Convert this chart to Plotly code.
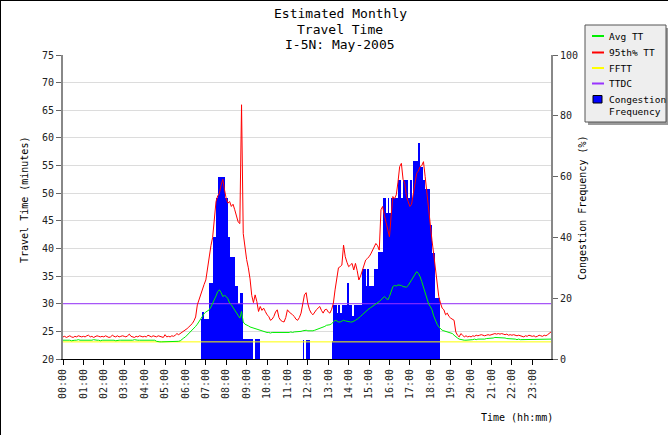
import plotly.graph_objects as go

# ---------------- data ----------------
tick_labels = ["00:00", "01:00", "02:00", "03:00", "04:00", "05:00", "06:00", "07:00",
               "08:00", "09:00", "10:00", "11:00", "12:00", "13:00", "14:00", "15:00",
               "16:00", "17:00", "18:00", "19:00", "20:00", "21:00", "22:00", "23:00"]
tick_hours = list(range(24))

# 5-minute bins, one row per hour
avg_tt_rows = [
    [23.4, 23.4, 23.5, 23.4, 23.4, 23.3, 23.4, 23.4, 23.4, 23.5, 23.4, 23.4],
    [23.4, 23.4, 23.3, 23.4, 23.4, 23.4, 23.5, 23.4, 23.4, 23.4, 23.3, 23.4],
    [23.4, 23.4, 23.4, 23.5, 23.4, 23.4, 23.4, 23.3, 23.4, 23.4, 23.4, 23.4],
    [23.4, 23.3, 23.4, 23.4, 23.4, 23.4, 23.5, 23.4, 23.4, 23.4, 23.4, 23.3],
    [23.4, 23.4, 23.3, 23.4, 23.4, 23.4, 23.4, 23.2, 23.1, 23.1, 23.1, 23.1],
    [23.1, 23.1, 23.1, 23.1, 23.1, 23.1, 23.1, 23.1, 23.2, 23.3, 23.6, 23.8],
    [24.0, 24.3, 24.6, 24.9, 25.2, 25.5, 25.9, 26.3, 26.8, 27.3, 27.7, 28.2],
    [28.5, 28.7, 28.9, 29.4, 30.0, 30.7, 31.4, 32.2, 32.5, 32.0, 31.3, 31.5],
    [31.3, 30.9, 30.1, 29.8, 29.3, 28.9, 28.4, 27.9, 27.4, 28.6, 26.7, 26.3],
    [26.2, 26.0, 25.8, 25.7, 25.5, 25.4, 25.3, 25.2, 25.1, 25.0, 24.9, 24.9],
    [24.8, 24.8, 24.7, 24.8, 24.8, 24.7, 24.8, 24.8, 24.8, 24.7, 24.8, 24.8],
    [24.8, 24.8, 24.9, 24.8, 24.9, 24.9, 24.9, 25.0, 25.0, 25.1, 25.2, 25.2],
    [25.1, 25.1, 25.0, 25.1, 25.2, 25.3, 25.4, 25.6, 25.6, 25.7, 25.9, 26.1],
    [26.1, 26.2, 26.4, 26.8, 27.0, 26.9, 26.7, 26.7, 26.8, 27.0, 26.9, 26.8],
    [26.8, 26.7, 26.7, 26.8, 27.0, 27.2, 27.4, 27.7, 28.0, 28.3, 28.6, 28.9],
    [29.1, 29.3, 29.5, 29.8, 30.0, 30.2, 30.4, 30.7, 31.0, 31.3, 31.0, 30.7],
    [31.3, 32.2, 33.1, 33.3, 33.2, 33.4, 33.4, 33.3, 33.1, 33.1, 33.0, 33.3],
    [33.8, 34.4, 34.9, 35.3, 35.8, 35.5, 34.9, 34.0, 32.9, 31.9, 31.0, 30.0],
    [29.5, 28.9, 27.8, 27.0, 26.3, 25.8, 25.5, 25.2, 25.1, 25.0, 24.9, 24.9],
    [24.7, 24.6, 24.3, 24.0, 23.8, 23.6, 23.5, 23.5, 23.4, 23.4, 23.4, 23.4],
    [23.5, 23.5, 23.6, 23.5, 23.6, 23.6, 23.5, 23.6, 23.6, 23.7, 23.7, 23.7],
    [23.8, 23.8, 23.9, 23.9, 23.9, 23.9, 23.9, 23.8, 23.8, 23.7, 23.7, 23.6],
    [23.6, 23.6, 23.6, 23.5, 23.6, 23.5, 23.5, 23.6, 23.5, 23.5, 23.6, 23.5],
    [23.5, 23.6, 23.5, 23.5, 23.6, 23.5, 23.5, 23.6, 23.6, 23.5, 23.6, 23.6],
]

p95_tt_rows = [
    [24.0, 24.1, 23.9, 24.0, 24.2, 24.0, 23.9, 24.1, 24.0, 24.2, 24.1, 24.0],
    [24.1, 24.0, 24.2, 24.3, 24.0, 24.1, 23.9, 24.0, 24.2, 24.1, 24.0, 24.1],
    [24.0, 24.2, 24.1, 23.9, 24.0, 24.3, 24.1, 24.0, 24.2, 24.0, 24.1, 24.2],
    [24.1, 24.0, 24.2, 24.5, 24.1, 24.0, 23.9, 24.1, 24.0, 24.2, 24.1, 24.0],
    [24.1, 24.0, 24.3, 24.1, 24.0, 24.2, 24.1, 24.0, 24.2, 24.1, 24.0, 23.9],
    [24.4, 24.0, 24.1, 24.0, 24.2, 24.1, 24.3, 24.6, 24.4, 24.6, 24.9, 25.0],
    [25.2, 25.5, 25.8, 26.1, 26.4, 26.9, 27.6, 29.8, 30.8, 31.7, 32.6, 33.5],
    [34.3, 36.5, 39.0, 40.5, 42.0, 45.0, 48.5, 49.5, 50.0, 51.5, 52.5, 50.6],
    [49.0, 48.2, 48.5, 47.6, 48.0, 47.0, 46.0, 44.8, 44.5, 66.0, 42.7, 40.0],
    [38.0, 36.5, 34.5, 31.5, 30.2, 31.6, 30.4, 28.6, 29.5, 28.8, 29.2, 28.6],
    [28.0, 27.7, 27.0, 27.2, 27.7, 28.5, 28.9, 27.5, 27.0, 26.8, 26.7, 27.5],
    [28.9, 28.5, 28.3, 28.0, 27.7, 27.2, 27.0, 27.5, 28.3, 30.4, 31.6, 32.0],
    [30.0, 28.9, 28.3, 28.0, 28.5, 28.9, 29.2, 29.5, 28.8, 28.3, 28.9, 29.0],
    [28.5, 28.3, 29.0, 30.1, 32.5, 34.5, 36.5, 36.7, 37.0, 40.6, 38.5, 37.5],
    [36.7, 37.0, 37.3, 36.1, 37.3, 36.0, 34.3, 35.0, 36.1, 37.0, 37.9, 38.2],
    [38.5, 39.0, 39.7, 40.3, 40.9, 40.5, 39.7, 47.0, 47.6, 46.0, 44.5, 43.0],
    [42.1, 46.0, 49.4, 49.0, 49.7, 52.0, 54.8, 55.4, 52.5, 51.8, 49.4, 48.5],
    [47.6, 48.0, 50.0, 51.5, 53.6, 54.0, 54.8, 55.0, 55.7, 53.0, 50.0, 46.3],
    [44.0, 41.5, 39.0, 36.1, 33.5, 31.3, 30.1, 29.2, 28.9, 28.0, 28.3, 27.7],
    [27.4, 27.2, 27.0, 24.9, 24.3, 24.0, 24.6, 24.3, 24.0, 24.2, 24.0, 24.1],
    [24.0, 24.2, 24.1, 24.3, 24.2, 24.3, 24.4, 24.3, 24.2, 24.3, 24.4, 24.3],
    [24.4, 24.5, 24.6, 24.5, 24.6, 24.5, 24.6, 24.5, 24.4, 24.5, 24.3, 24.4],
    [24.3, 24.4, 24.3, 24.2, 24.3, 24.2, 24.1, 24.0, 24.2, 24.1, 24.3, 24.2],
    [24.1, 24.2, 24.0, 24.1, 24.3, 24.2, 24.1, 24.3, 24.2, 24.4, 24.6, 24.9],
]

cong_freq_rows = [
    [0] * 12, [0] * 12, [0] * 12, [0] * 12, [0] * 12, [0] * 12,
    [0, 0, 0, 0, 0, 0, 0, 0, 0, 13, 15.5, 13],
    [13, 13, 25, 25, 40, 40, 53, 60, 60, 60, 60, 53],
    [53, 40, 33.5, 33.5, 33.5, 24, 24, 18, 21.7, 21.7, 6.7, 6.7],
    [6.7, 6.7, 6.7, 6.7, 0, 6.7, 6.7, 6.7, 0, 0, 0, 0],
    [0] * 12,
    [0, 0, 0, 0, 0, 0, 0, 0, 0, 6.3, 0, 6.3],
    [6.3, 0, 0, 0, 0, 0, 0, 0, 0, 0, 0, 0],
    [0, 0, 6, 17.8, 17.8, 15, 17.8, 15, 17.8, 17.8, 17.8, 25],
    [17.8, 17.8, 14, 17.8, 17.8, 17.8, 17.8, 17.8, 29.5, 29.5, 24, 29.5],
    [24, 24, 24, 29.5, 29.5, 35.3, 35.3, 35.3, 53, 53, 48, 53],
    [48, 53, 53, 53, 53, 59, 59, 53, 59, 59, 59, 53],
    [59, 53, 65, 65, 65, 71, 63, 63, 59, 56, 56, 56],
    [44, 35, 35, 20, 20, 20, 0, 0, 0, 0, 0, 0],
    [0] * 12, [0] * 12, [0] * 12, [0] * 12, [0] * 12,
]

fftt_value = 23.1
ttdc_value = 30.0

avg_tt = [v for row in avg_tt_rows for v in row]
p95_tt = [v for row in p95_tt_rows for v in row]
cong_freq = [v for row in cong_freq_rows for v in row]
times = [i * 5 / 60 for i in range(len(avg_tt))]  # hours of day, 5-minute bins
fftt = [fftt_value] * len(times)
ttdc = [ttdc_value] * len(times)

# ---------------- layout helpers (pixel -> paper) ----------------
W, H = 668, 435
L, R, T, B = 63, 551, 55, 359


def fx(px):
    return (px - L) / (R - L)


def fy(py):
    return (B - py) / (B - T)


FONT = "DejaVu Sans Mono"

fig = go.Figure()

fig.add_trace(go.Bar(
    x=times, y=cong_freq, width=5 / 60, offset=0,
    marker=dict(color="#0000ff", line=dict(width=0)),
    yaxis="y", name="Congestion Frequency", showlegend=False,
))
fig.add_trace(go.Scatter(x=times, y=ttdc, mode="lines", yaxis="y2",
                         line=dict(color="#9933ff", width=1), name="TTDC", showlegend=False))
fig.add_trace(go.Scatter(x=times, y=fftt, mode="lines", yaxis="y2",
                         line=dict(color="#ffff00", width=1), name="FFTT", showlegend=False))
fig.add_trace(go.Scatter(x=times, y=avg_tt, mode="lines", yaxis="y2",
                         line=dict(color="#00ee00", width=1), name="Avg TT", showlegend=False))
fig.add_trace(go.Scatter(x=times, y=p95_tt, mode="lines", yaxis="y2",
                         line=dict(color="#ff0000", width=1), name="95th% TT", showlegend=False))

tickfont = dict(family=FONT, size=10, color="#222")

fig.update_layout(
    width=W, height=H,
    margin=dict(l=L, r=W - R, t=T, b=H - B, pad=0),
    paper_bgcolor="white", plot_bgcolor="white",
    bargap=0, hovermode=False,
    font=dict(family=FONT, size=10, color="#000"),
    xaxis=dict(range=[0, times[-1]], tickvals=tick_hours, ticktext=tick_labels,
               tickangle=-90, ticks="outside", ticklen=5, tickcolor="#000",
               showline=True, linecolor="#000", linewidth=1, showgrid=False,
               zeroline=False, tickfont=tickfont),
    yaxis=dict(side="right", range=[0, 100], tickvals=[0, 20, 40, 60, 80, 100],
               ticks="outside", ticklen=5, tickcolor="#666", showline=True,
               linecolor="#888", linewidth=2, showgrid=False, zeroline=False,
               tickfont=tickfont),
    yaxis2=dict(side="left", overlaying="y", range=[20, 75], dtick=5, tick0=20,
                ticks="outside", ticklen=5, tickcolor="#666", showline=True,
                linecolor="#888", linewidth=2, showgrid=True, gridcolor="#dcdcdc",
                gridwidth=1, zeroline=False, tickfont=tickfont),
)

annotations = []
for text, py in [("Estimated Monthly", 14), ("Travel Time", 29.5), ("I-5N: May-2005", 45)]:
    annotations.append(dict(text=text, x=fx(340), y=fy(py), xref="paper", yref="paper",
                            xanchor="center", yanchor="middle", showarrow=False,
                            font=dict(family=FONT, size=13, color="#000")))
annotations.append(dict(text="Travel Time (minutes)", x=fx(24), y=fy(200), xref="paper",
                        yref="paper", textangle=-90, xanchor="center", yanchor="middle",
                        showarrow=False, font=dict(family=FONT, size=10, color="#000")))
annotations.append(dict(text="Congestion Frequency (%)", x=fx(582), y=fy(208), xref="paper",
                        yref="paper", textangle=-90, xanchor="center", yanchor="middle",
                        showarrow=False, font=dict(family=FONT, size=10, color="#000")))
annotations.append(dict(text="Time (hh:mm)", x=fx(517), y=fy(417), xref="paper",
                        yref="paper", xanchor="center", yanchor="middle",
                        showarrow=False, font=dict(family=FONT, size=10, color="#000")))

shapes = []
# legend shadow and box
shapes.append(dict(type="rect", xref="paper", yref="paper", x0=fx(588), x1=fx(669),
                   y0=fy(28), y1=fy(125), fillcolor="#9a9a9a", line=dict(width=0)))
shapes.append(dict(type="rect", xref="paper", yref="paper", x0=fx(585), x1=fx(666),
                   y0=fy(25), y1=fy(122), fillcolor="#eeeeee",
                   line=dict(color="#555555", width=1)))
legend_items = [("Avg TT", "#00ee00", 36), ("95th% TT", "#ff0000", 52.5),
                ("FFTT", "#ffff00", 68), ("TTDC", "#9933ff", 83.5)]
for label, color, py in legend_items:
    shapes.append(dict(type="line", xref="paper", yref="paper", x0=fx(592), x1=fx(604),
                       y0=fy(py), y1=fy(py), line=dict(color=color, width=2)))
    annotations.append(dict(text=label, x=fx(607), y=fy(py), xref="paper", yref="paper",
                            xanchor="left", yanchor="middle", showarrow=False,
                            font=dict(family=FONT, size=9.5, color="#000")))
shapes.append(dict(type="rect", xref="paper", yref="paper", x0=fx(593), x1=fx(602),
                   y0=fy(95.5), y1=fy(103), fillcolor="#0000ff",
                   line=dict(color="#000", width=1)))
for text, py in [("Congestion", 99.5), ("Frequency", 111.5)]:
    annotations.append(dict(text=text, x=fx(607), y=fy(py), xref="paper", yref="paper",
                            xanchor="left", yanchor="middle", showarrow=False,
                            font=dict(family=FONT, size=9.5, color="#000")))
# image frame (left and top edges)
shapes.append(dict(type="line", xref="paper", yref="paper", x0=fx(0.5), x1=fx(0.5),
                   y0=fy(0), y1=fy(H), line=dict(color="#000", width=1)))
shapes.append(dict(type="line", xref="paper", yref="paper", x0=fx(0), x1=fx(W),
                   y0=fy(0.5), y1=fy(0.5), line=dict(color="#000", width=1)))

fig.update_layout(annotations=annotations, shapes=shapes)

fig.write_html("out.html", config={"displayModeBar": False, "staticPlot": True},
               post_script="document.body.style.margin='0';document.body.style.overflow='hidden';")
